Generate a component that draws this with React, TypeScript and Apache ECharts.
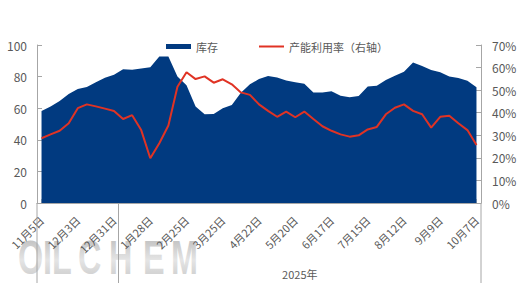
import React, { useEffect, useRef } from "react";
import * as echarts from "echarts";

const categories: string[] = [
  "11月5日", "11月12日", "11月19日", "11月26日", "12月3日", "12月10日", "12月17日", "12月24日", "12月31日",
  "1月7日", "1月14日", "1月21日", "1月28日", "2月4日", "2月11日", "2月18日", "2月25日",
  "3月4日", "3月11日", "3月18日", "3月25日", "4月1日", "4月8日", "4月15日", "4月22日", "4月29日",
  "5月6日", "5月13日", "5月20日", "5月27日", "6月3日", "6月10日", "6月17日", "6月24日",
  "7月1日", "7月8日", "7月15日", "7月22日", "7月29日", "8月5日", "8月12日", "8月19日", "8月26日",
  "9月2日", "9月9日", "9月16日", "9月23日", "9月30日", "10月7日",
];

const inventory: number[] = [
  58.2, 61.0, 64.6, 69.0, 72.2, 73.4, 76.4, 79.3, 81.2,
  84.6, 84.3, 85.2, 85.9, 92.8, 92.8, 80.0, 74.5,
  61.0, 56.1, 56.3, 59.9, 62.0, 69.8, 75.1, 78.5, 80.4,
  79.5, 77.6, 76.4, 75.5, 70.0, 70.0, 70.8, 67.9,
  66.9, 67.7, 73.8, 74.2, 77.8, 80.6, 83.1, 89.0, 86.7,
  84.2, 82.7, 80.0, 79.1, 77.4, 73.2,
];

const utilization: number[] = [
  28.7, 30.4, 32.0, 35.3, 42.0, 43.7, 42.8, 41.8, 40.8,
  37.2, 38.9, 32.3, 19.8, 26.5, 34.3, 51.5, 57.9,
  54.9, 56.1, 53.3, 54.8, 52.6, 49.0, 47.9, 43.7, 40.8,
  38.2, 40.5, 38.0, 40.5, 37.2, 34.0, 32.0, 30.4,
  29.4, 30.0, 32.6, 33.7, 39.3, 42.2, 43.7, 40.8, 39.3,
  33.4, 38.2, 38.7, 35.3, 32.3, 25.7,
];

const seriesNames: string[] = ["库存", "产能利用率（右轴）"];
const yearGroups = [
  { label: "", from: "11月5日", to: "12月31日" },
  { label: "2025年", from: "1月7日", to: "10月7日" },
];
const watermarkLetters: string[] = ["O", "I", "L", "C", "H", "E", "M"];

const FONT = "'Noto Sans CJK SC', 'Noto Sans', sans-serif";
const TEXT = "#595959";
const AXIS = "#a6a6a6";
const BLUE = "#013a80";
const RED = "#e03324";

export default function App() {
  const ref = useRef<HTMLDivElement>(null);
  useEffect(() => {
    if (!ref.current) return;
    const chart = echarts.init(ref.current, null, { renderer: "svg" });
    chart.setOption({
      animation: false,
      textStyle: { fontFamily: FONT },
      grid: { left: 37, right: 41, top: 45, bottom: 91, containLabel: false },
      legend: {
        left: 161,
        top: 36,
        itemWidth: 25,
        itemHeight: 5,
        itemGap: 41,
        textStyle: { color: TEXT, fontSize: 11, fontFamily: FONT },
        data: [
          { name: seriesNames[0], icon: "rect" },
          { name: seriesNames[1], icon: "path://M0,0H25V2H0Z" },
        ],
      },
      xAxis: {
        type: "category",
        data: categories,
        boundaryGap: true,
        axisLine: { lineStyle: { color: AXIS } },
        axisTick: {
          show: true,
          inside: true,
          length: 4,
          alignWithLabel: true,
          interval: 0,
          lineStyle: { color: "#bfbfbf" },
        },
        axisLabel: {
          interval: 3,
          rotate: 45,
          color: TEXT,
          fontSize: 11,
          margin: 15,
          fontFamily: FONT,
        },
        splitLine: { show: false },
      },
      yAxis: [
        {
          type: "value",
          min: 0,
          max: 100,
          interval: 20,
          axisLine: { show: true, lineStyle: { color: AXIS } },
          axisTick: { show: true, inside: true, length: 5, lineStyle: { color: AXIS } },
          axisLabel: { color: TEXT, fontSize: 12, margin: 10, fontFamily: FONT },
          splitLine: { show: false },
        },
        {
          type: "value",
          min: 0,
          max: 70,
          interval: 10,
          position: "right",
          axisLine: { show: true, lineStyle: { color: AXIS } },
          axisTick: { show: true, inside: true, length: 5, lineStyle: { color: AXIS } },
          axisLabel: { color: TEXT, fontSize: 12, margin: 11, formatter: "{value}%", fontFamily: FONT },
          splitLine: { show: false },
        },
      ],
      series: [
        {
          name: seriesNames[0],
          type: "line",
          data: inventory,
          yAxisIndex: 0,
          symbol: "none",
          lineStyle: { width: 0, color: BLUE },
          itemStyle: { color: BLUE },
          areaStyle: { color: BLUE, opacity: 1 },
          z: 1,
        },
        {
          name: seriesNames[1],
          type: "line",
          data: utilization,
          yAxisIndex: 1,
          symbol: "none",
          lineStyle: { width: 2, color: RED },
          itemStyle: { color: RED },
          z: 3,
        },
      ],
    });

    const p = (c: string) => chart.convertToPixel({ xAxisIndex: 0 }, c) as number;
    const p0 = chart.convertToPixel({ xAxisIndex: 0 }, 0) as number;
    const p1 = chart.convertToPixel({ xAxisIndex: 0 }, 1) as number;
    const half = (p1 - p0) / 2;
    const axisY = chart.convertToPixel({ yAxisIndex: 0 }, 0) as number;
    const lineBottom = axisY + 80;
    const graphics: any[] = [];
    const bounds = new Set<number>();
    yearGroups.forEach((g) => {
      const a = p(g.from) - half;
      const b = p(g.to) + half;
      bounds.add(Math.round(a * 2) / 2);
      bounds.add(Math.round(b * 2) / 2);
      if (g.label) {
        graphics.push({
          type: "text",
          x: (a + b) / 2,
          y: axisY + 71,
          style: {
            text: g.label,
            fill: TEXT,
            font: `11px ${FONT}`,
            textAlign: "center",
            textVerticalAlign: "middle",
          },
          z: 10,
        });
      }
    });
    bounds.forEach((x) => {
      graphics.push({
        type: "line",
        shape: { x1: x, y1: axisY, x2: x, y2: lineBottom },
        style: { stroke: AXIS, lineWidth: 1 },
        z: 10,
      });
    });
    // watermark: condensed, spaced letters
    const wmLeft = 18;
    const wmAdvance = [25, 9, 26, 31, 34, 28, 0];
    let wx = wmLeft;
    watermarkLetters.forEach((ch, i) => {
      graphics.push({
        type: "text",
        x: wx,
        y: 281,
        scaleX: 0.66,
        style: {
          text: ch,
          font: `bold 49px 'Liberation Sans', Arial, sans-serif`,
          fill: "#bdbdbd",
          textVerticalAlign: "bottom",
        },
        z: -2,
        silent: true,
      });
      wx += wmAdvance[i];
    });
    graphics.push({
      type: "rect",
      shape: { x: 15, y: 236, width: 195, height: 40 },
      style: {
        fill: new echarts.graphic.LinearGradient(0, 0, 0, 1, [
          { offset: 0, color: "rgba(255,255,255,0)" },
          { offset: 0.6, color: "rgba(255,255,255,0.6)" },
          { offset: 1, color: "rgba(255,255,255,0.3)" },
        ]),
      },
      z: -1,
      silent: true,
    });
    chart.setOption({ graphic: graphics });

    return () => chart.dispose();
  }, []);
  return (
    <div
      ref={ref}
      style={{ position: "absolute", left: 0, top: 0, width: 522, height: 294 }}
    />
  );
}
